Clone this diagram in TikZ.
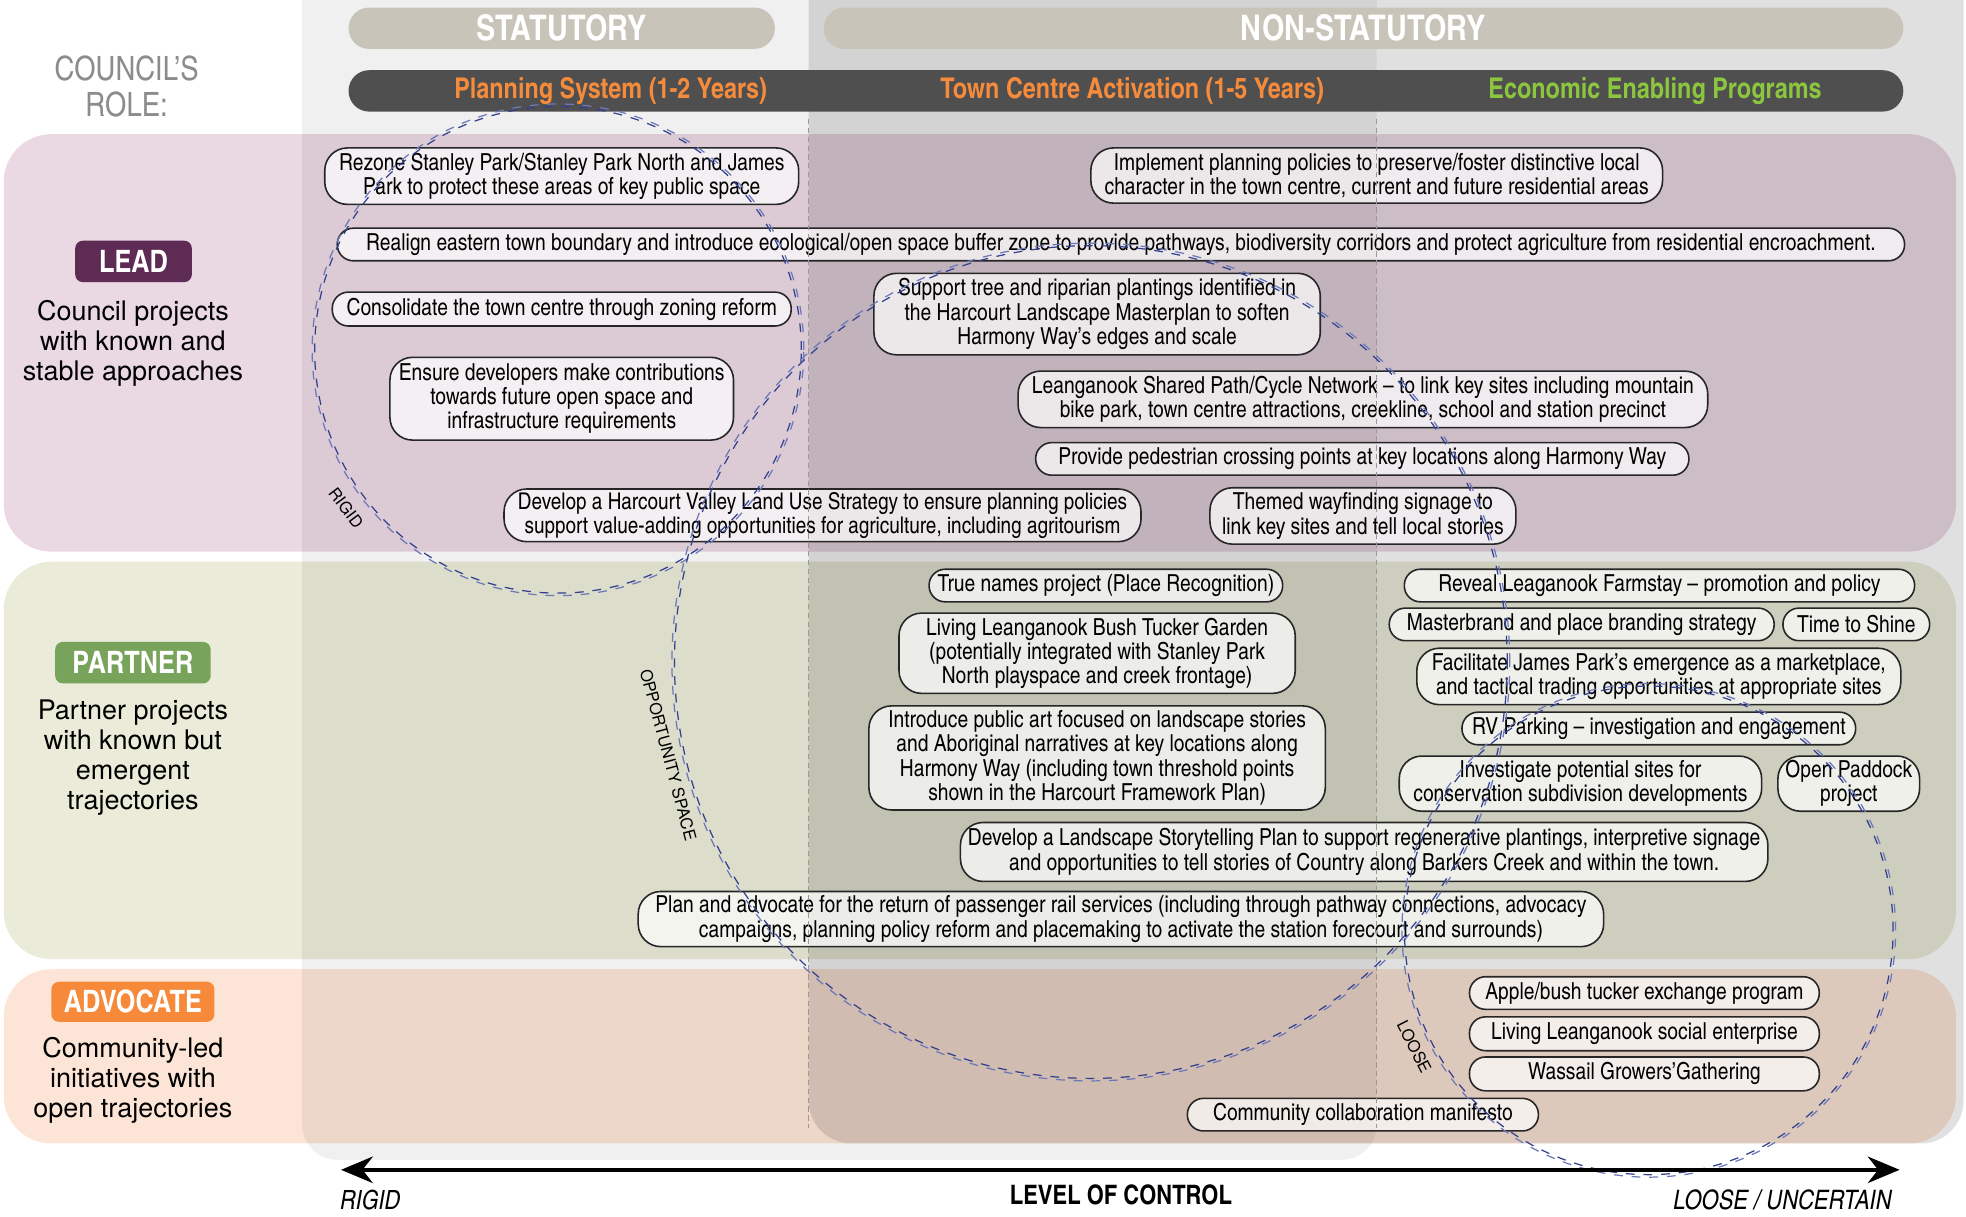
\documentclass[tikz,border=0pt]{standalone}
\usepackage{fontspec}
\setmainfont{texgyreheroscn}[Extension=.otf,UprightFont=*-regular,BoldFont=*-bold,ItalicFont=*-italic,BoldItalicFont=*-bolditalic]
\newfontfamily\ringfont{TeX Gyre Heros}
\usetikzlibrary{arrows.meta}
\definecolor{leadbg}{HTML}{EAD8E3}
\definecolor{partnerbg}{HTML}{EAEBD8}
\definecolor{advocatebg}{HTML}{FCE5D6}
\definecolor{pillgray}{HTML}{C9C4B9}
\definecolor{bargray}{HTML}{4F4F4F}
\definecolor{phaseorange}{HTML}{F68B3C}
\definecolor{phasegreen}{HTML}{8CC63F}
\definecolor{leadpurple}{HTML}{5E2B54}
\definecolor{partnergreen}{HTML}{77A45A}
\definecolor{advocateorange}{HTML}{F68A3A}
\definecolor{rolegray}{HTML}{8C8C8C}
\definecolor{ringblue}{HTML}{33408F}
\definecolor{ringpale}{HTML}{6C78B8}
\newcommand\itemfont{\fontsize{13.3}{13.7}\selectfont}
\tikzset{
  band/.style={rounded corners=0.95cm},
  sz/.style 2 args={minimum width=#1*0.025cm,minimum height=#2*0.025cm},
  item/.style={draw=black!85,line width=0.9pt,rounded corners=0.32cm,
    fill=white,fill opacity=0.7,text opacity=1,align=center,
    inner sep=0pt,font=\itemfont},
  tallitem/.style={item,rounded corners=0.45cm},
  pill/.style={rounded corners=0.41cm,fill=pillgray,text=white,
    inner sep=0pt,font=\fontsize{20}{20}\selectfont\bfseries},
  phasebar/.style={rounded corners=0.41cm,fill=bargray,inner sep=0pt},
  phase/.style={font=\fontsize{16.2}{16}\selectfont\bfseries,inner sep=0pt},
  rolebox/.style={rounded corners=0.15cm,text=white,inner sep=0pt,
    font=\fontsize{17.5}{18}\selectfont\bfseries},
  roletext/.style={align=center,inner sep=0pt,
    font=\ringfont\fontsize{15.3}{17}\selectfont},
  divider/.style={gray!80,line width=0.4pt,dash pattern=on 3pt off 2pt},
  ring/.style={ringblue,line width=0.7pt,dash pattern=on 5pt off 5pt},
  ringb/.style={ringpale,line width=0.7pt,dash pattern=on 5pt off 5pt},
  ringlabel/.style={inner sep=0pt,font=\ringfont\fontsize{9.3}{9.5}\selectfont},
  axisarrow/.style={line width=2.2pt,
    arrows={Stealth[length=18pt,width=15pt]-Stealth[length=18pt,width=15pt]}}
}
\begin{document}
\begin{tikzpicture}[x=0.025cm,y=-0.025cm]
  \useasboundingbox (0,0) rectangle (1568,970);

  % role bands
  \fill[leadbg,band] (3,107) rectangle (1560,440);
  \fill[partnerbg,band] (3,448) rectangle (1560,765);
  \fill[advocatebg,band] (3,773) rectangle (1560,912);

  % statutory / non-statutory columns
  \fill[black,fill opacity=0.06,rounded corners=0.7cm] (241,-40) rectangle (1098,925);
  \fill[black,fill opacity=0.12,rounded corners=0.85cm] (645,-40) rectangle (1566,912);

  % header
  \node[pill,sz={340}{33}] (statutory) at (448,22.5) {STATUTORY};
  \node[pill,sz={861}{33}] (nonstatutory) at (1087.5,22.5) {NON-STATUTORY};
  \node[phasebar,sz={1240}{33}] (bar) at (898,72.5) {};
  \node[phase,text=phaseorange] (planning) at (487,72.5) {Planning System (1-2 Years)};
  \node[phase,text=phaseorange] (activation) at (903,72.5) {Town Centre Activation (1-5 Years)};
  \node[phase,text=phasegreen] (economic) at (1320,72.5) {Economic Enabling Programs};
  \node[align=center,text=rolegray,inner sep=0pt,
    font=\fontsize{19}{20}\selectfont] (role) at (101,69) {COUNCIL’S\\ROLE:};

  % roles
  \node[rolebox,fill=leadpurple,sz={93}{33}] (lead) at (106.5,208.5) {LEAD};
  \node[roletext] (leadtext) at (106,274) {Council projects\\with known and\\stable approaches};
  \node[rolebox,fill=partnergreen,sz={124}{33}] (partner) at (106,528.5) {PARTNER};
  \node[roletext] (partnertext) at (106,604) {Partner projects\\with known but\\emergent\\trajectories};
  \node[rolebox,fill=advocateorange,sz={130}{32}] (advocate) at (106,799) {ADVOCATE};
  \node[roletext] (advocatetext) at (106,862) {Community-led\\initiatives with\\open trajectories};

  % lead projects
  \node[tallitem,sz={378}{45}] (rezone) at (448,140.5)
    {Rezone Stanley Park/Stanley Park North and James\\Park to protect these areas of key public space};
  \node[tallitem,sz={456}{44}] (character) at (1098,140)
    {Implement planning policies to preserve/foster distinctive local\\character in the town centre, current and future residential areas};
  \node[item,sz={1250}{26}] (realign) at (894,195)
    {Realign eastern town boundary and introduce ecological/open space buffer zone to provide pathways, biodiversity corridors and protect agriculture from residential encroachment.};
  \node[item,sz={366}{27}] (consolidate) at (448,246.5)
    {Consolidate the town centre through zoning reform};
  \node[tallitem,sz={356}{65}] (plantings) at (875,250.5)
    {Support tree and riparian plantings identified in\\the Harcourt Landscape Masterplan to soften\\Harmony Way’s edges and scale};
  \node[tallitem,sz={274}{66}] (contributions) at (448,318)
    {Ensure developers make contributions\\towards future open space and\\infrastructure requirements};
  \node[tallitem,sz={550}{45}] (cycle) at (1087,318.5)
    {Leanganook Shared Path/Cycle Network – to link key sites including mountain\\bike park, town centre attractions, creekline, school and station precinct};
  \node[item,sz={521}{26}] (crossing) at (1086.5,366)
    {Provide pedestrian crossing points at key locations along Harmony Way};
  \node[tallitem,sz={508}{42},font=\fontsize{13.1}{11.6}\selectfont] (landuse) at (656,411)
    {Develop a Harcourt Valley Land Use Strategy to ensure planning policies\\support value-adding opportunities for agriculture, including agritourism};
  \node[tallitem,sz={244}{45}] (wayfinding) at (1087,411.5)
    {Themed wayfinding signage to\\link key sites and tell local stories};

  % partner projects
  \node[item,sz={282}{26}] (truenames) at (882,467)
    {True names project (Place Recognition)};
  \node[item,sz={407}{26}] (farmstay) at (1323.5,467)
    {Reveal Leaganook Farmstay – promotion and policy};
  \node[tallitem,sz={316}{64}] (bushtucker) at (875,521)
    {Living Leanganook Bush Tucker Garden\\(potentially integrated with Stanley Park\\North playspace and creek frontage)};
  \node[item,sz={307}{26}] (masterbrand) at (1261.5,498)
    {Masterbrand and place branding strategy};
  \node[item,sz={117}{26}] (shine) at (1480.5,498) {Time to Shine};
  \node[tallitem,sz={386}{45}] (marketplace) at (1323,539.5)
    {Facilitate James Park’s emergence as a marketplace,\\and tactical trading opportunities at appropriate sites};
  \node[item,sz={314}{26}] (rvparking) at (1323,581)
    {RV Parking – investigation and engagement};
  \node[tallitem,sz={364}{83}] (publicart) at (875,604.5)
    {Introduce public art focused on landscape stories\\and Aboriginal narratives at key locations along\\Harmony Way (including town threshold points\\shown in the Harcourt Framework Plan)};
  \node[tallitem,sz={289}{44}] (subdivision) at (1260.5,625)
    {Investigate potential sites for\\conservation subdivision developments};
  \node[tallitem,sz={113}{44}] (paddock) at (1474.5,625) {Open Paddock\\project};
  \node[tallitem,sz={644}{47}] (storytelling) at (1088,679.5)
    {Develop a Landscape Storytelling Plan to support regenerative plantings, interpretive signage\\and opportunities to tell stories of Country along Barkers Creek and within the town.};
  \node[tallitem,sz={770}{44}] (rail) at (894,733)
    {Plan and advocate for the return of passenger rail services (including through pathway connections, advocacy\\campaigns, planning policy reform and placemaking to activate the station forecourt and surrounds)};

  % advocate projects
  \node[item,sz={279}{26}] (exchange) at (1311.5,792) {Apple/bush tucker exchange program};
  \node[item,sz={279}{27}] (enterprise) at (1311.5,824.5) {Living Leanganook social enterprise};
  \node[item,sz={279}{27}] (wassail) at (1311.5,856.5) {Wassail Growers’Gathering};
  \node[item,sz={280}{26}] (manifesto) at (1087,889) {Community collaboration manifesto};

  % column dividers
  \draw[divider] (645,95) -- (645,900);
  \draw[divider] (1098,95) -- (1098,900);

  % rigid / opportunity / loose rings
  \coordinate (rigidc) at (445,279);
  \coordinate (oppc) at (870,528);
  \coordinate (loosec) at (1315,742);
  \draw[ring] (rigidc) circle[radius=4.85cm];
  \draw[ringb] (rigidc) circle[radius=4.9cm];
  \draw[ring] (oppc) circle[radius=8.3cm];
  \draw[ringb] (oppc) circle[radius=8.35cm];
  \draw[ring] (loosec) circle[radius=4.87cm];
  \draw[ringb] (loosec) circle[radius=4.92cm];
  \node[ringlabel,rotate=-53] (rigidtag) at (276,405) {RIGID};
  \node[ringlabel,rotate=-75] (opptag) at (533,602) {OPPORTUNITY SPACE};
  \node[ringlabel,rotate=-63] (loosetag) at (1128,835) {LOOSE};

  % level of control axis
  \coordinate (axl) at (272,933);
  \coordinate (axr) at (1515,933);
  \draw[axisarrow] (axl) -- (axr);
  \node[anchor=west,inner sep=0pt,font=\fontsize{15}{15}\selectfont\itshape] (rigidend) at (271,957) {RIGID};
  \node[inner sep=0pt,font=\fontsize{15.2}{16}\selectfont\bfseries] (control) at (894,953) {LEVEL OF CONTROL};
  \node[anchor=east,inner sep=0pt,font=\fontsize{15.2}{15}\selectfont\itshape] (looseend) at (1509,957) {LOOSE / UNCERTAIN};
\end{tikzpicture}
\end{document}
